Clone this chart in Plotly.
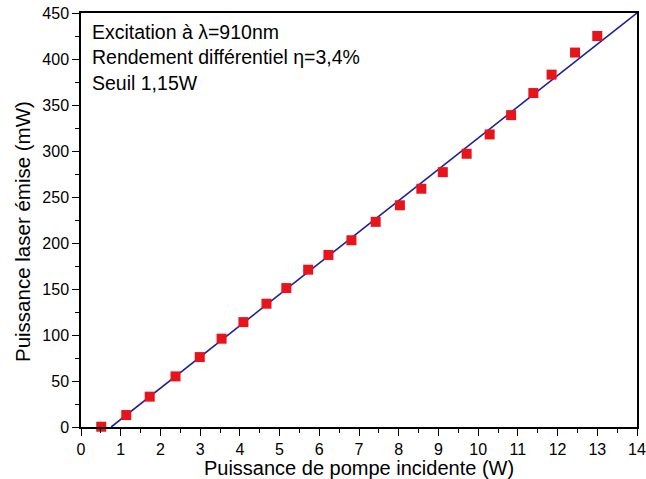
import plotly.graph_objects as go

pump_W = [0.51, 1.14, 1.73, 2.38, 2.99, 3.54, 4.09, 4.67, 5.17, 5.72, 6.23, 6.81,
          7.42, 8.03, 8.57, 9.11, 9.71, 10.29, 10.83, 11.39, 11.85, 12.44, 13.0]
laser_mW = [0.3, 13, 33, 55, 76, 96, 114, 134, 151, 171, 187, 203,
            223, 241, 259, 277, 297, 318, 339, 363, 383, 407, 425]
fit_x = [0.76, 14]
fit_y = [0, 450]
annot_lines = ["Excitation à λ=910nm", "Rendement différentiel η=3,4%", "Seuil 1,15W"]
x_title = "Puissance de pompe incidente (W)"
y_title = "Puissance laser émise (mW)"

font = "Liberation Sans, Arial, sans-serif"
fig = go.Figure()
fig.add_trace(go.Scatter(x=fit_x, y=fit_y, mode="lines",
                         line=dict(color="#1f1f96", width=1.6), showlegend=False))
fig.add_trace(go.Scatter(x=pump_W, y=laser_mW, mode="markers",
                         marker=dict(symbol="square", size=10, color="#e8141c"),
                         cliponaxis=False, showlegend=False))

fig.add_annotation(x=0, y=1, xref="paper", yref="paper", xanchor="left", yanchor="top",
                   xshift=9, yshift=-6, align="left", showarrow=False,
                   text="<br>".join(annot_lines),
                   font=dict(family=font, size=19.5, color="black"))
fig.add_annotation(x=0, y=0.471, xref="paper", yref="paper", xanchor="center", yanchor="middle",
                   xshift=-59, textangle=-90, showarrow=False, text=y_title,
                   font=dict(family=font, size=20.5, color="black"))

axis_common = dict(showline=True, linecolor="black", linewidth=1.5, mirror=True,
                   ticks="outside", ticklen=7, tickwidth=1.3, tickcolor="black",
                   showgrid=False, zeroline=False, automargin=False,
                   tickfont=dict(family=font, size=16, color="black"))
fig.update_xaxes(range=[0, 14], dtick=1, tick0=0,
                 minor=dict(ticks="outside", dtick=0.5, ticklen=4, tickcolor="black", tickwidth=1.2),
                 title=dict(text=x_title, standoff=0,
                            font=dict(family=font, size=20, color="black")),
                 **axis_common)
fig.update_yaxes(range=[0, 450], dtick=50, tick0=0,
                 minor=dict(ticks="outside", dtick=25, ticklen=4, tickcolor="black", tickwidth=1.2),
                 **axis_common)
fig.update_layout(width=646, height=479, margin=dict(l=81, r=9, t=13, b=52),
                  plot_bgcolor="white", paper_bgcolor="white")
fig.write_html("out.html", config={"displayModeBar": False},
               post_script="document.body.style.margin='0';document.body.style.padding='0';"
                           "document.documentElement.style.overflow='hidden';")
